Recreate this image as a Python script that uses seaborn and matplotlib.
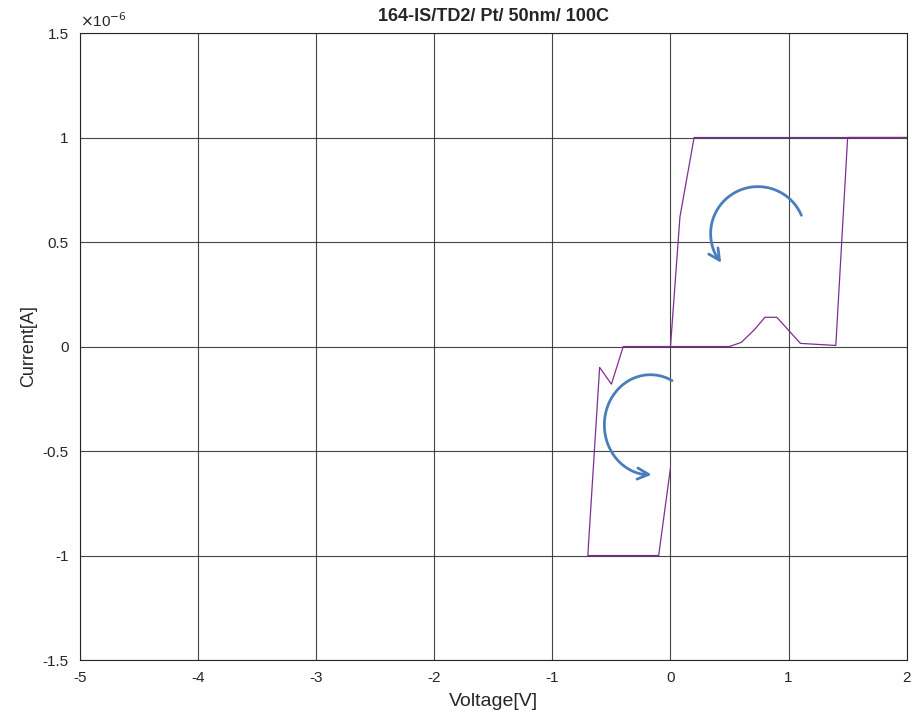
import numpy as np
import pandas as pd
import matplotlib
matplotlib.use("Agg")
import matplotlib.pyplot as plt
import seaborn as sns

# Sweep data (voltage in V, current in units of 1e-6 A)
voltage = [0.0, 0.08, 0.2, 0.5, 1.0, 1.5, 2.0, 1.5, 1.4, 1.1, 0.9, 0.8, 0.71, 0.6, 0.5, 0.0,
           -0.4, -0.5, -0.6, -0.7, -0.4, -0.1, 0.0]
current = [0.0, 0.62, 1.0, 1.0, 1.0, 1.0, 1.0, 1.0, 0.005, 0.015, 0.14, 0.14, 0.08, 0.02, 0.0, 0.0,
           0.0, -0.18, -0.1, -1.0, -1.0, -1.0, -0.58]
order = list(range(len(voltage)))

xticks = [-5, -4, -3, -2, -1, 0, 1, 2]
yticks = [-1.5, -1, -0.5, 0, 0.5, 1, 1.5]
ytick_labels = ["-1.5", "-1", "-0.5", "0", "0.5", "1", "1.5"]

df = pd.DataFrame({"V": voltage, "I": current, "o": order})

sns.set_style("white")
plt.rcParams["font.family"] = ["Liberation Sans", "DejaVu Sans"]

fig = plt.figure(figsize=(9.14, 7.13), dpi=100)
ax = fig.add_axes([0.0875, 0.0743, 0.9045, 0.8794])

sns.lineplot(data=df, x="V", y="I", sort=False, estimator=None, ax=ax,
             color="#7E2F8E", lw=0.9)

ax.set_xlim(-5, 2)
ax.set_ylim(-1.5, 1.5)
ax.set_xticks(xticks)
ax.set_xticklabels([str(t) for t in xticks])
ax.set_yticks(yticks)
ax.set_yticklabels(ytick_labels)
ax.grid(True, color="#262626", lw=0.8, alpha=0.85)
ax.tick_params(direction="in", length=4, labelsize=11, colors="#262626", pad=8)
for s in ax.spines.values():
    s.set_color("#262626")
    s.set_linewidth(0.8)

ax.set_xlabel("Voltage[V]", fontsize=14, color="#262626", labelpad=6)
ax.set_ylabel("Current[A]", fontsize=13, color="#262626", labelpad=4)
ax.set_title("164-IS/TD2/ Pt/ 50nm/ 100C", fontsize=13, fontweight="bold", pad=9)
ax.text(0.0, 1.005, r"$\times$10$^{-6}$", transform=ax.transAxes, fontsize=11,
        va="bottom", ha="left", color="#262626")

# curved arrows (annotations)
def arc_arrow(cx, cy, rx, ry, a0, a1):
    t = np.radians(np.linspace(a0, a1, 60))
    xs = cx + rx * np.cos(t)
    ys = cy + ry * np.sin(t)
    ax.plot(xs[:-3], ys[:-3], color="#4A7EBB", lw=2)
    ax.annotate("", xy=(xs[-1], ys[-1]), xytext=(xs[-6], ys[-6]),
                arrowprops=dict(arrowstyle="->,head_length=0.8,head_width=0.4",
                                color="#4A7EBB", lw=2))

arc_arrow(0.74, 0.54, 0.40, 0.225, 23, 222)
arc_arrow(-0.17, -0.375, 0.39, 0.24, 62, 275)

fig.savefig("out.png", dpi=100)
